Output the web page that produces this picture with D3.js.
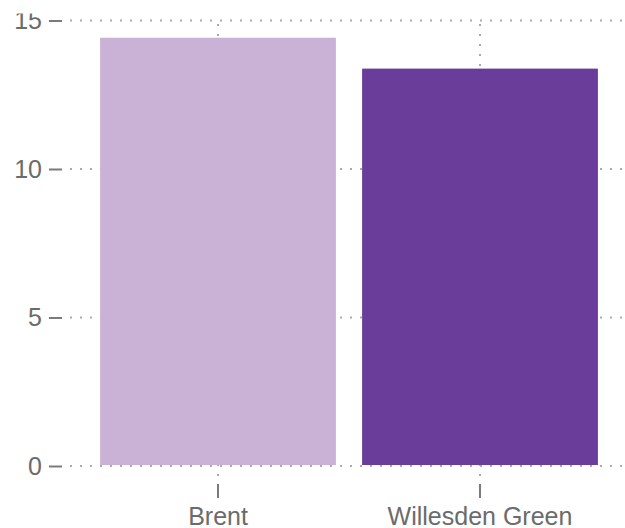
<!DOCTYPE html>
<html>
<head>
<meta charset="utf-8">
<script src="https://cdn.jsdelivr.net/npm/d3@7"></script>
<style>
  html, body { margin: 0; padding: 0; background: #fff; }
  svg { display: block; }
</style>
</head>
<body>
<svg id="chart" width="625" height="528"></svg>
<script>
const categories = ["Brent", "Willesden Green"];
const values = [14.42, 13.38];
const colors = ["#cab2d6", "#6a3d9a"];
const yTicks = [0, 5, 10, 15];

const svg = d3.select("#chart");
const W = 625, H = 528;

const x = d3.scaleBand().domain(categories).range([87, 611]).paddingInner(0.1).paddingOuter(0.05);
const y = d3.scaleLinear().domain([0, 15]).range([466, 20.5]);

const gridColor = "#ababab";
const axisColor = "#7a7a7a";
const textColor = "#6b6b6b";
const font = "'Liberation Sans', Arial, sans-serif";

svg.append("defs").append("clipPath").attr("id", "clipTop")
  .append("rect").attr("x", 0).attr("y", 13.5).attr("width", W).attr("height", H);

// horizontal gridlines
svg.append("g").selectAll("line").data(yTicks).join("line")
  .attr("x1", 70).attr("x2", 622)
  .attr("y1", d => y(d)).attr("y2", d => y(d))
  .attr("stroke", gridColor).attr("stroke-width", 2)
  .attr("stroke-dasharray", "2,8");

// vertical gridlines
svg.append("g").selectAll("line").data(categories).join("line")
  .attr("x1", d => x(d) + x.bandwidth() / 2).attr("x2", d => x(d) + x.bandwidth() / 2)
  .attr("y1", 24).attr("y2", 478)
  .attr("stroke", gridColor).attr("stroke-width", 2)
  .attr("stroke-dasharray", "2,8");

// bars
svg.append("g").selectAll("rect").data(categories).join("rect")
  .attr("x", d => x(d))
  .attr("width", x.bandwidth())
  .attr("y", (d, i) => y(values[i]))
  .attr("height", (d, i) => y(0) - y(values[i]) - 1)
  .attr("fill", (d, i) => colors[i]);

// y axis (clipped at top like the reference)
const yAxis = d3.axisLeft(y).tickValues(yTicks).tickSize(13).tickPadding(7);
const clipWrap = svg.append("g").attr("clip-path", "url(#clipTop)");
const gy = clipWrap.append("g").attr("transform", "translate(62,0)").call(yAxis);
gy.select(".domain").remove();
gy.selectAll(".tick line").attr("stroke", axisColor).attr("stroke-width", 2);
gy.selectAll(".tick text").attr("fill", textColor).attr("font-size", 25).attr("font-family", font);

// x axis
const xAxis = d3.axisBottom(x).tickSize(14).tickPadding(9);
const gx = svg.append("g").attr("transform", "translate(0,484)").call(xAxis);
gx.select(".domain").remove();
gx.selectAll(".tick line").attr("stroke", axisColor).attr("stroke-width", 2);
gx.selectAll(".tick text").attr("fill", textColor).attr("font-size", 25).attr("font-family", font);
</script>
</body>
</html>
